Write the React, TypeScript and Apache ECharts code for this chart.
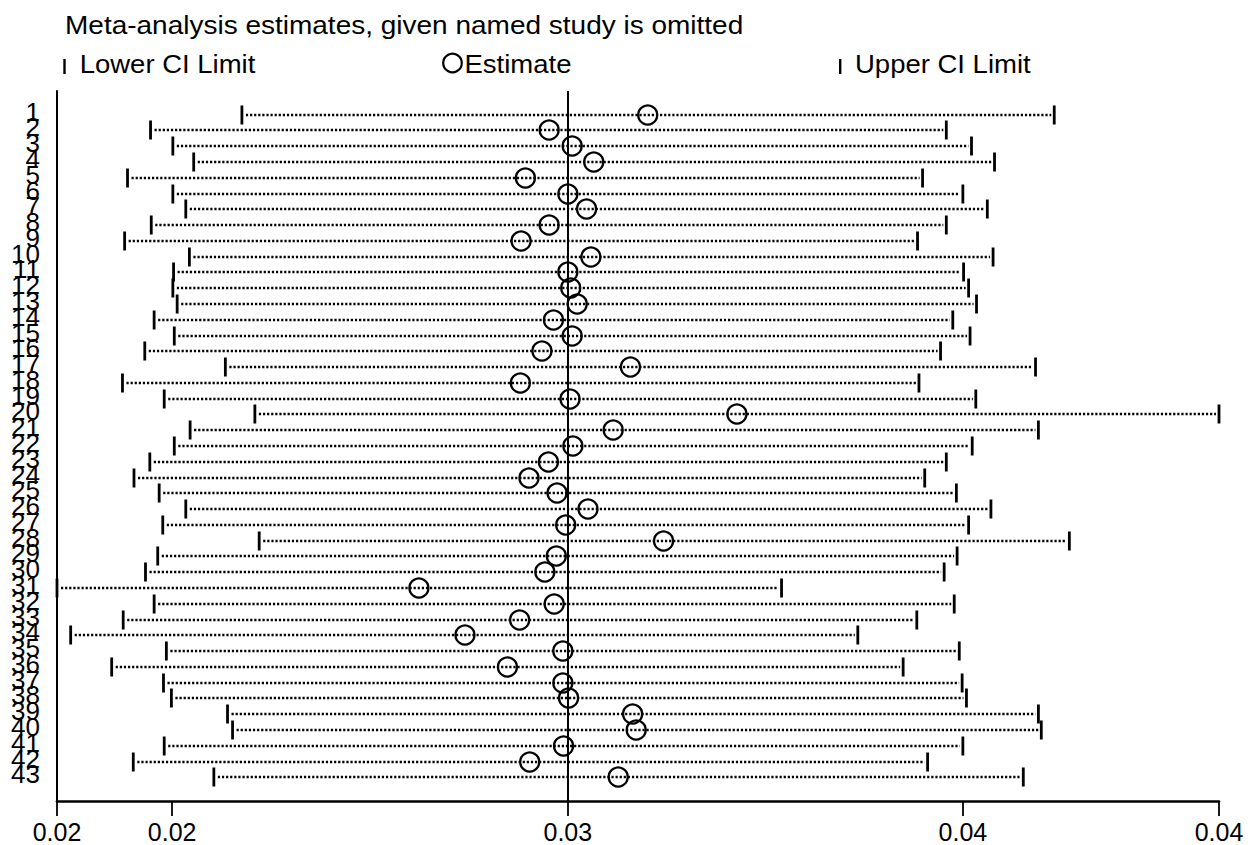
import React, { useEffect, useRef } from "react";
import * as echarts from "echarts";

const FONT = '"Liberation Sans", Arial, Helvetica, sans-serif';

const studies = [
  1, 2, 3, 4, 5, 6, 7, 8, 9, 10, 11, 12, 13, 14, 15, 16, 17, 18, 19, 20, 21,
  22, 23, 24, 25, 26, 27, 28, 29, 30, 31, 32, 33, 34, 35, 36, 37, 38, 39, 40,
  41, 42, 43,
];

const lowerCI = [
  0.02547, 0.0242, 0.02451, 0.0248, 0.02388, 0.02451, 0.02469, 0.02421,
  0.02384, 0.02474, 0.02452, 0.02451, 0.02457, 0.02425, 0.02453, 0.02412,
  0.02524, 0.02381, 0.02439, 0.02565, 0.02475, 0.02453, 0.02419, 0.02397,
  0.02432, 0.02469, 0.02437, 0.02571, 0.0243, 0.02413, 0.0229, 0.02425,
  0.02382, 0.02309, 0.02442, 0.02366, 0.02438, 0.02449, 0.02527, 0.02534,
  0.02439, 0.02396, 0.02508,
];

const estimate = [
  0.03111, 0.02974, 0.03006, 0.03036, 0.02941, 0.03, 0.03026, 0.02974,
  0.02935, 0.03032, 0.03, 0.03004, 0.03013, 0.0298, 0.03006, 0.02964,
  0.03087, 0.02934, 0.03003, 0.03235, 0.03063, 0.03007, 0.02973, 0.02946,
  0.02985, 0.03028, 0.02997, 0.03133, 0.02984, 0.02968, 0.02793, 0.02981,
  0.02933, 0.02857, 0.02993, 0.02916, 0.02993, 0.03001, 0.0309, 0.03095,
  0.02994, 0.02947, 0.0307,
];

const upperCI = [
  0.03676, 0.03526, 0.03561, 0.03593, 0.03493, 0.03549, 0.03583, 0.03526,
  0.03486, 0.03591, 0.0355, 0.03557, 0.03568, 0.03535, 0.03559, 0.03518,
  0.0365, 0.03488, 0.03567, 0.03905, 0.03654, 0.03562, 0.03526, 0.03496,
  0.0354, 0.03588, 0.03557, 0.03697, 0.03541, 0.03523, 0.03297, 0.03537,
  0.03485, 0.03403, 0.03544, 0.03466, 0.03548, 0.03554, 0.03654, 0.03658,
  0.03549, 0.035, 0.03633,
];

// overall pooled estimate and its CI (reference lines)
const overallLines = [0.0245, 0.03, 0.03549];

const xTickValues = [0.0229, 0.0245, 0.03, 0.03549, 0.03905];
const xTickLabels = ["0.02", "0.02", "0.03", "0.04", "0.04"];

const titleText = "Meta-analysis estimates, given named study is omitted";
const legendLabels = ["Lower CI Limit", "Estimate", "Upper CI Limit"];

export default function App() {
  const ref = useRef<HTMLDivElement>(null);

  useEffect(() => {
    if (!ref.current) return;
    const chart = echarts.init(ref.current, null, { renderer: "svg" });
    const rows = studies.map((s, i) => [s, lowerCI[i], estimate[i], upperCI[i]]);
    const xMin = xTickValues[0];
    const xMax = xTickValues[xTickValues.length - 1];
    const labelRows = studies.map((s) => [xMin, s]);

    const renderItem = (params: any, api: any) => {
      const y = api.value(0);
      const pL = api.coord([api.value(1), y]);
      const pE = api.coord([api.value(2), y]);
      const pU = api.coord([api.value(3), y]);
      const yy = Math.round(pL[1]);
      return {
        type: "group",
        children: [
          {
            type: "line",
            shape: { x1: pL[0] + 4, y1: yy, x2: pU[0] - 3, y2: yy },
            style: {
              stroke: "#000",
              lineWidth: 2.6,
              lineDash: [2.2, 1.9],
            },
          },
          {
            type: "rect",
            shape: { x: pL[0] - 1.4, y: yy - 9.5, width: 2.8, height: 19 },
            style: { fill: "#000" },
          },
          {
            type: "rect",
            shape: { x: pU[0] - 1.4, y: yy - 9.5, width: 2.8, height: 19 },
            style: { fill: "#000" },
          },
          {
            type: "circle",
            shape: { cx: pE[0], cy: yy, r: 9.5 },
            style: { fill: "none", stroke: "#000", lineWidth: 2.3 },
          },
        ],
      };
    };

    const renderLabel = (params: any, api: any) => {
      const p = api.coord([api.value(0), api.value(1)]);
      return {
        type: "text",
        x: p[0] - 17,
        y: p[1] - 3,
        style: {
          text: String(api.value(1)),
          font: `26px ${FONT}`,
          fill: "#000",
          textAlign: "right",
          textVerticalAlign: "middle",
        },
      };
    };

    const textStyle = (text: string) => ({
      text,
      font: `25px ${FONT}`,
      fill: "#000",
      textAlign: "left",
      textVerticalAlign: "middle",
    });

    chart.setOption({
      animation: false,
      backgroundColor: "#fff",
      grid: {
        left: 57,
        right: 37,
        top: 91,
        bottom: 44,
        containLabel: false,
        outerBoundsMode: "none",
      },
      xAxis: {
        type: "value",
        min: xMin,
        max: xMax,
        axisLine: { show: true, onZero: false, lineStyle: { color: "#000", width: 2.7 } },
        axisTick: {
          show: true,
          customValues: xTickValues,
          length: 15,
          lineStyle: { color: "#000", width: 1.8 },
        },
        axisLabel: {
          customValues: xTickValues,
          formatter: (v: number) => {
            let best = 0;
            xTickValues.forEach((t, i) => {
              if (Math.abs(t - v) < Math.abs(xTickValues[best] - v)) best = i;
            });
            return xTickLabels[best];
          },
          color: "#000",
          fontFamily: FONT,
          fontSize: 25,
          margin: 18,
          showMinLabel: true,
          showMaxLabel: true,
          hideOverlap: false,
        },
        splitLine: { show: false },
      },
      yAxis: {
        type: "value",
        inverse: true,
        min: -0.5,
        max: 44.5,
        axisLine: { show: true, onZero: false, lineStyle: { color: "#000", width: 2 } },
        axisTick: { show: false },
        axisLabel: { show: false },
        splitLine: { show: false },
      },
      graphic: [
        { type: "text", x: 65, y: 25.5, scaleX: 1.12, style: textStyle(titleText) },
        {
          type: "rect",
          shape: { x: 63.3, y: 59, width: 2.4, height: 15 },
          style: { fill: "#000" },
        },
        { type: "text", x: 79.7, y: 64.5, scaleX: 1.1, style: textStyle(legendLabels[0]) },
        {
          type: "circle",
          shape: { cx: 452.5, cy: 63, r: 9.3 },
          style: { fill: "none", stroke: "#000", lineWidth: 2.2 },
        },
        { type: "text", x: 464.5, y: 64.5, scaleX: 1.1, style: textStyle(legendLabels[1]) },
        {
          type: "rect",
          shape: { x: 839, y: 59, width: 2.4, height: 15 },
          style: { fill: "#000" },
        },
        { type: "text", x: 855, y: 64.5, scaleX: 1.1, style: textStyle(legendLabels[2]) },
      ],
      series: [
        {
          type: "custom",
          data: rows,
          encode: { x: [1, 2, 3], y: 0 },
          renderItem,
          clip: false,
          silent: true,
          z: 3,
          markLine: {
            silent: true,
            symbol: ["none", "none"],
            label: { show: false },
            lineStyle: { color: "#000", width: 2, type: "solid" },
            emphasis: { disabled: true },
            z: 2,
            data: overallLines.map((v) => ({ xAxis: v })),
          },
        },
        {
          type: "custom",
          data: labelRows,
          encode: { x: 0, y: 1 },
          renderItem: renderLabel,
          clip: false,
          silent: true,
          z: 4,
        },
      ],
    });

    return () => chart.dispose();
  }, []);

  return (
    <div
      ref={ref}
      style={{ position: "absolute", left: 0, top: 0, width: 1256, height: 845 }}
    />
  );
}
